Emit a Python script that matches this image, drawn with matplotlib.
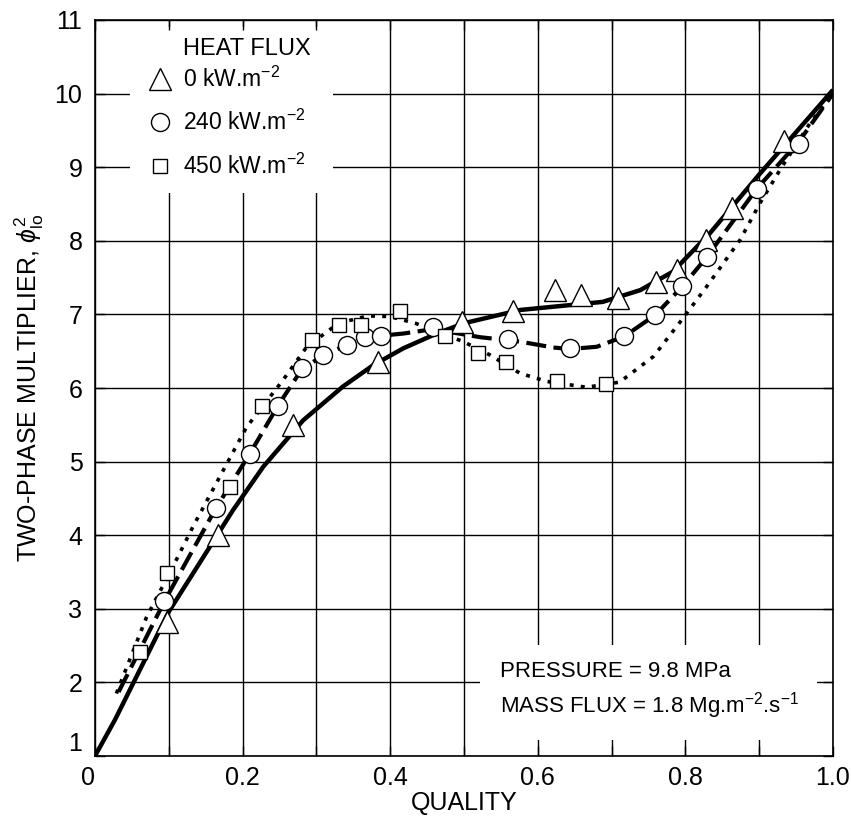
import matplotlib
matplotlib.use("Agg")
import matplotlib.pyplot as plt
from matplotlib.patches import Rectangle
from matplotlib.ticker import MultipleLocator, FuncFormatter

plt.rcParams['font.family'] = ['Liberation Sans', 'DejaVu Sans']
plt.rcParams['mathtext.fontset'] = 'custom'
plt.rcParams['mathtext.rm'] = 'Liberation Sans'
plt.rcParams['mathtext.it'] = 'Liberation Sans:italic'

# measured points
tri_x = [0.097, 0.167, 0.269, 0.384, 0.497, 0.567, 0.623, 0.659, 0.709, 0.760, 0.789, 0.828, 0.863, 0.933]
tri_y = [2.82, 4.00, 5.50, 6.36, 6.90, 7.04, 7.33, 7.26, 7.22, 7.44, 7.60, 8.01, 8.44, 9.35]

circ_x = [0.094, 0.164, 0.210, 0.248, 0.280, 0.309, 0.342, 0.366, 0.387, 0.458,
          0.560, 0.644, 0.717, 0.759, 0.796, 0.829, 0.897, 0.954]
circ_y = [3.10, 4.37, 5.11, 5.76, 6.27, 6.45, 6.59, 6.69, 6.71, 6.83,
          6.66, 6.54, 6.70, 6.99, 7.38, 7.78, 8.71, 9.32]

sq_x = [0.061, 0.097, 0.183, 0.226, 0.294, 0.330, 0.361, 0.413, 0.474, 0.519, 0.557, 0.626, 0.692]
sq_y = [2.42, 3.49, 4.66, 5.76, 6.65, 6.86, 6.86, 7.04, 6.70, 6.48, 6.36, 6.10, 6.05]

# fitted curves
solid_x = [0.0, 0.027, 0.10, 0.187, 0.228, 0.282, 0.336, 0.377, 0.418, 0.463, 0.50, 0.576,
           0.688, 0.739, 0.783, 0.833, 0.90, 1.0]
solid_y = [1.0, 1.49, 2.96, 4.34, 4.93, 5.56, 6.02, 6.31, 6.54, 6.74, 6.88, 7.06,
           7.17, 7.33, 7.58, 8.10, 8.90, 10.05]

dash_x = [0.032, 0.094, 0.164, 0.21, 0.248, 0.28, 0.31, 0.345, 0.387, 0.418, 0.458, 0.522, 0.576,
          0.621, 0.644, 0.68, 0.717, 0.759, 0.796, 0.829, 0.897, 0.954, 1.0]
dash_y = [1.87, 3.10, 4.37, 5.11, 5.76, 6.25, 6.45, 6.60, 6.71, 6.74, 6.80, 6.69, 6.63,
          6.55, 6.53, 6.56, 6.70, 6.99, 7.38, 7.78, 8.71, 9.35, 10.0]

dot_x = [0.029, 0.070, 0.108, 0.133, 0.185, 0.2055, 0.255, 0.287, 0.33, 0.37, 0.40, 0.434, 0.499,
         0.535, 0.576, 0.612, 0.666, 0.711, 0.757, 0.797, 0.829, 0.874, 0.901, 0.928, 0.969, 1.0]
dot_y = [1.85, 2.89, 3.62, 4.12, 5.09, 5.47, 6.11, 6.56, 6.88, 6.98, 6.97, 6.88, 6.63,
         6.45, 6.20, 6.09, 6.01, 6.08, 6.43, 6.95, 7.38, 8.01, 8.51, 8.96, 9.60, 10.0]

labels = ['0 kW.m$^{-2}$', '240 kW.m$^{-2}$', '450 kW.m$^{-2}$']

fig = plt.figure(figsize=(8.51, 8.19), dpi=100)
ax = fig.add_axes([0.1116, 0.0769, 0.8672, 0.8987])
ax.set_xlim(0, 1.0)
ax.set_ylim(1, 11)
ax.xaxis.set_major_locator(MultipleLocator(0.2))
ax.xaxis.set_minor_locator(MultipleLocator(0.1))
ax.yaxis.set_major_locator(MultipleLocator(1))
ax.xaxis.set_major_formatter(FuncFormatter(lambda v, p: '0' if abs(v) < 1e-9 else f'{v:.1f}'))
ax.tick_params(which='both', direction='in', length=7, width=1, top=True, right=True,
               labelsize=18)
ax.tick_params(axis='y', pad=9)
ax.tick_params(axis='x', pad=7)
for s in ax.spines.values():
    s.set_linewidth(1.2)

# grid drawn below the white boxes so ticks stay visible
xg = list(ax.xaxis.get_majorticklocs()) + list(ax.xaxis.get_minorticklocs())
yg = ax.yaxis.get_majorticklocs()
ax.vlines(xg, 1, 11, colors='black', lw=1.0, zorder=0.6)
ax.hlines(yg, 0, 1, colors='black', lw=1.0, zorder=0.6)

ax.add_patch(Rectangle((0.047, 0.765), 0.2755, 0.2255, transform=ax.transAxes,
                       facecolor='white', edgecolor='none', zorder=1))
ax.add_patch(Rectangle((0.522, 0.0217), 0.456, 0.1293, transform=ax.transAxes,
                       facecolor='white', edgecolor='none', zorder=1))

ax.plot(solid_x, solid_y, color='black', lw=3.2, solid_capstyle='butt', zorder=2)
ax.plot(dash_x, dash_y, color='black', lw=3.0, linestyle=(0, (4.8, 1.8)), zorder=2)
ax.plot(dot_x, dot_y, color='black', lw=2.6, linestyle=(0, (1.1, 2.0)), zorder=2)

mk = dict(linestyle='none', markerfacecolor='white', markeredgecolor='black',
          markeredgewidth=1.0, zorder=3)
h1, = ax.plot(tri_x, tri_y, marker='^', markersize=16, **mk)
h2, = ax.plot(circ_x, circ_y, marker='o', markersize=13, **mk)
h3, = ax.plot(sq_x, sq_y, marker='s', markersize=10.5, **mk)

ax.text(0.119, 0.9606, 'HEAT FLUX', transform=ax.transAxes, fontsize=17,
        va='center', ha='left', zorder=4)
leg = ax.legend([h1, h2, h3], labels, loc='upper left', bbox_to_anchor=(0.073, 0.937),
                frameon=False, fontsize=16.5, handlelength=1.0, handletextpad=0.5,
                labelspacing=0.8, borderpad=0, borderaxespad=0)
leg.set_zorder(4)

ax.text(0.549, 0.115, 'PRESSURE = 9.8 MPa', transform=ax.transAxes, fontsize=16,
        va='center', ha='left', zorder=4)
ax.text(0.549, 0.068, 'MASS FLUX = 1.8 Mg.m$^{-2}$.s$^{-1}$', transform=ax.transAxes,
        fontsize=16, va='center', ha='left', zorder=4)

ax.set_xlabel('QUALITY', fontsize=18, labelpad=1)
ax.set_ylabel(r'TWO-PHASE MULTIPLIER, $\phi^2_{\rm lo}$', fontsize=18, labelpad=6)

# the corner labels sit slightly off their ticks in the original
fig.canvas.draw()
for t in ax.yaxis.get_major_ticks():
    if abs(t.get_loc() - 1) < 1e-9:
        t.label1.set_verticalalignment('bottom')
for t in ax.xaxis.get_major_ticks():
    if abs(t.get_loc()) < 1e-9:
        t.label1.set_horizontalalignment('right')

fig.savefig('out.png', dpi=100)
